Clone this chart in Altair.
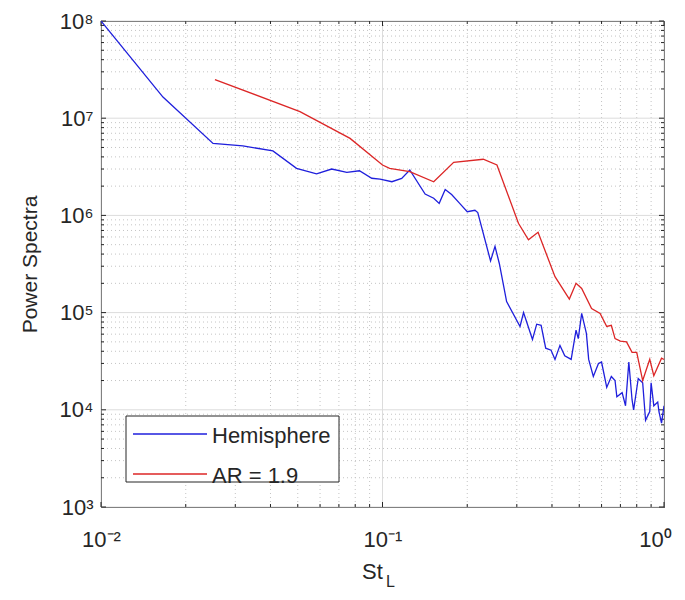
import altair as alt
import pandas as pd

# ---- data ----
hemi_x = [0.01, 0.0166, 0.025, 0.0319, 0.0408, 0.0495, 0.0583, 0.066, 0.0747, 0.0828,
          0.0916, 0.098, 0.108, 0.117, 0.125, 0.1417, 0.152, 0.159, 0.167, 0.176,
          0.188, 0.2, 0.213, 0.218, 0.242, 0.251, 0.26, 0.276, 0.308, 0.317,
          0.341, 0.353, 0.366, 0.38, 0.397, 0.41, 0.427, 0.444, 0.468, 0.487,
          0.496, 0.51, 0.53, 0.54, 0.561, 0.585, 0.6, 0.626, 0.65, 0.67,
          0.68, 0.71, 0.73, 0.75, 0.77, 0.78, 0.81, 0.84, 0.86, 0.89,
          0.9, 0.92, 0.95, 0.96, 0.98, 1.0]
hemi_y = [1e8, 1.65e7, 5.5e6, 5.2e6, 4.6e6, 3.05e6, 2.67e6, 3.0e6, 2.77e6, 2.88e6,
          2.41e6, 2.36e6, 2.22e6, 2.4e6, 2.93e6, 1.66e6, 1.5e6, 1.33e6, 1.85e6, 1.64e6,
          1.33e6, 1.09e6, 1.13e6, 1.07e6, 3.4e5, 4.8e5, 3.2e5, 1.3e5, 7.2e4, 1.0e5,
          5.3e4, 7.6e4, 7.4e4, 4.3e4, 4.1e4, 3.3e4, 4.6e4, 3.6e4, 3.3e4, 6.6e4,
          5.4e4, 9.8e4, 6.1e4, 3.3e4, 2.2e4, 3.0e4, 3.1e4, 1.7e4, 2.2e4, 2.0e4,
          1.36e4, 1.5e4, 1.1e4, 3.1e4, 1.27e4, 1.0e4, 2.1e4, 1.9e4, 7.8e3, 9.6e3,
          1.9e4, 1.1e4, 1.2e4, 9.5e3, 7.3e3, 1.1e4]

ar_x = [0.0254, 0.0509, 0.0767, 0.1, 0.106, 0.125, 0.152, 0.179, 0.228, 0.255,
        0.304, 0.33, 0.357, 0.41, 0.461, 0.487, 0.51, 0.553, 0.593, 0.626,
        0.65, 0.67, 0.70, 0.736, 0.77, 0.80, 0.84, 0.89, 0.92, 0.98, 1.0]
ar_y = [2.5e7, 1.17e7, 6.2e6, 3.3e6, 3.05e6, 2.82e6, 2.22e6, 3.52e6, 3.78e6, 3.3e6,
        8.3e5, 5.6e5, 6.7e5, 2.34e5, 1.38e5, 2.0e5, 1.77e5, 1.1e5, 9.8e4, 7.2e4,
        7.4e4, 5.4e4, 5.1e4, 5.0e4, 3.9e4, 3.9e4, 2.0e4, 3.3e4, 2.24e4, 3.4e4, 3.3e4]

series_names = ["Hemisphere", "AR = 1.9"]
series_colors = ["#1f1fdc", "#dc2626"]
x_ticks = [0.01, 0.1, 1.0]
y_ticks = [1e3, 1e4, 1e5, 1e6, 1e7, 1e8]
minor_x = [k * 10.0 ** e for e in (-2, -1) for k in range(2, 10)]
minor_y = [k * 10.0 ** e for e in range(3, 8) for k in range(2, 10)]

rows = []
for i, (x, y) in enumerate(zip(hemi_x, hemi_y)):
    rows.append({"St": x, "P": y, "series": series_names[0], "i": i})
for i, (x, y) in enumerate(zip(ar_x, ar_y)):
    rows.append({"St": x, "P": y, "series": series_names[1], "i": i})
df = pd.DataFrame(rows)

W, H = 563, 486
FONT = "Liberation Sans"
TXT = "#262626"
xs = alt.Scale(type="log", domain=[0.01, 1.0], nice=False)
ys = alt.Scale(type="log", domain=[1e3, 1e8], nice=False)
cs = alt.Scale(domain=series_names, range=series_colors)

x_lbl = "datum.value < 0.05 ? '10⁻²' : (datum.value < 0.5 ? '10⁻¹' : '10⁰')"
y_lbl = ("datum.value < 5e3 ? '10³' : datum.value < 5e4 ? '10⁴' : datum.value < 5e5 ? '10⁵' : "
         "datum.value < 5e6 ? '10⁶' : datum.value < 5e7 ? '10⁷' : '10⁸'")

AX = alt.Axis(values=x_ticks, labelExpr=x_lbl, grid=False, ticks=False, domain=False,
              labelFontSize=22, labelFont=FONT, labelColor=TXT, labelPadding=22,
              labelOffset={"condition": {"test": "datum.value > 0.5", "value": -9}, "value": 0},
              labelFlush=False, labelOverlap=False)
AY = alt.Axis(values=y_ticks, labelExpr=y_lbl, grid=False, ticks=False, domain=False,
              labelFontSize=22, labelFont=FONT, labelColor=TXT, labelPadding=8,
              labelFlush=False, labelOverlap=False,
              titleFont=FONT, titleFontSize=21, titleFontWeight="normal",
              titleColor=TXT, titlePadding=19)
Y_TITLE = "Power Spectra"

def X(field):
    return alt.X(field, scale=xs, title=None, axis=AX)

def Y(field):
    return alt.Y(field, scale=ys, title=Y_TITLE, axis=AY)

# main data lines
lines = alt.Chart(df).mark_line(strokeWidth=1.3, clip=True).encode(
    x=X("St:Q"), y=Y("P:Q"),
    color=alt.Color("series:N", scale=cs, legend=None),
    order=alt.Order("i:Q"),
)

def vx(vals):
    return alt.Chart(pd.DataFrame({"v": vals}))

# grid
grid_minor_x = vx(minor_x).mark_rule(color="#c4c4c4", strokeDash=[1, 3], strokeWidth=1).encode(x=X("v:Q"))
grid_major_x = vx(x_ticks).mark_rule(color="#dcdcdc", strokeWidth=1).encode(x=X("v:Q"))
grid_minor_y = vx(minor_y).mark_rule(color="#c4c4c4", strokeDash=[1, 3], strokeWidth=1).encode(y=Y("v:Q"))
grid_major_y = vx(y_ticks).mark_rule(color="#dcdcdc", strokeWidth=1).encode(y=Y("v:Q"))

# inward ticks on all four sides
def xticks(vals, L):
    b = vx(vals).mark_rule(color=TXT, strokeWidth=1).encode(
        x=X("v:Q"), y=alt.value(H), y2=alt.value(H - L))
    t = vx(vals).mark_rule(color=TXT, strokeWidth=1).encode(
        x=X("v:Q"), y=alt.value(0), y2=alt.value(L))
    return [b, t]

def yticks(vals, L):
    l = vx(vals).mark_rule(color=TXT, strokeWidth=1).encode(
        y=Y("v:Q"), x=alt.value(0), x2=alt.value(L))
    r = vx(vals).mark_rule(color=TXT, strokeWidth=1).encode(
        y=Y("v:Q"), x=alt.value(W), x2=alt.value(W - L))
    return [l, r]

# legend (box, sample lines, labels)
leg_df = pd.DataFrame({"series": series_names})
one = pd.DataFrame({"a": [0]})
leg_box = alt.Chart(one).mark_rect(fill="white", stroke=TXT, strokeWidth=1).encode(
    x=alt.value(25), x2=alt.value(238), y=alt.value(395), y2=alt.value(461))
leg_items = []
for name, ly in zip(series_names, [413, 453]):
    sub_df = leg_df[leg_df["series"] == name]
    leg_items.append(alt.Chart(sub_df).mark_rule(strokeWidth=1.3).encode(
        x=alt.value(32), x2=alt.value(106), y=alt.value(ly),
        color=alt.Color("series:N", scale=cs, legend=None)))
    leg_items.append(alt.Chart(sub_df).mark_text(
        fontSize=22, font=FONT, color=TXT, align="left", baseline="middle").encode(
        x=alt.value(111), y=alt.value(ly + 2), text="series:N"))

title_df = pd.DataFrame({"t": ["St"], "s": ["L"]})
st = alt.Chart(title_df).mark_text(fontSize=22, font=FONT, color=TXT, align="left",
                                   baseline="alphabetic").encode(
    text="t:N", x=alt.value(362 - 101), y=alt.value(579 - 21))
sub = alt.Chart(title_df).mark_text(fontSize=16, font=FONT, color=TXT, align="left",
                                    baseline="alphabetic").encode(
    text="s:N", x=alt.value(386 - 101), y=alt.value(587 - 21))

chart = alt.layer(
    grid_minor_x, grid_minor_y, grid_major_x, grid_major_y,
    *xticks(minor_x, 3), *xticks(x_ticks, 5), *yticks(minor_y, 3), *yticks(y_ticks, 5),
    lines, leg_box, *leg_items, st, sub,
).properties(
    width=W, height=H,
    padding={"left": 93, "top": 13, "right": 13, "bottom": 85},
    autosize=alt.AutoSizeParams(type="none"),
    background="white",
).configure_view(stroke=TXT, strokeWidth=1)

chart.save("out.html", embed_options={"renderer": "svg", "actions": False})
